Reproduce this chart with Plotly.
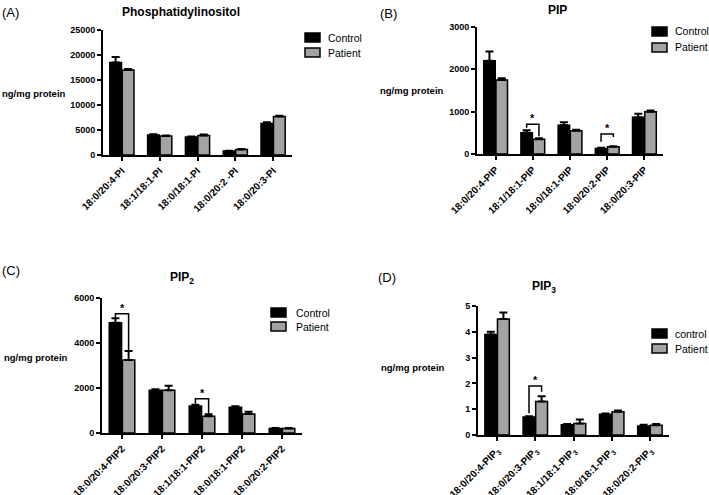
import plotly.graph_objects as go

W, H = 709, 495

# ---------------- data ----------------
cats_A = ["18:0/20:4-PI", "18:1/18:1-PI", "18:0/18:1-PI", "18:0/20:2 -PI", "18:0/20:3-PI"]
ctrl_A = [18500, 4000, 3600, 800, 6300]
ctrl_A_err = [1100, 150, 120, 60, 250]
pat_A = [17000, 3800, 3900, 1100, 7700]
pat_A_err = [200, 100, 200, 100, 150]

cats_B = ["18:0/20:4-PIP", "18:1/18:1-PIP", "18:0/18:1-PIP", "18:0/20:2-PIP", "18:0/20:3-PIP"]
ctrl_B = [2200, 500, 680, 130, 870]
ctrl_B_err = [220, 60, 70, 15, 80]
pat_B = [1750, 350, 550, 170, 1000]
pat_B_err = [40, 20, 20, 15, 30]

cats_C = ["18:0/20:4-PIP2", "18:0/20:3-PIP2", "18:1/18:1-PIP2", "18:0/18:1-PIP2", "18:0/20:2-PIP2"]
ctrl_C = [4900, 1900, 1200, 1150, 200]
ctrl_C_err = [200, 50, 60, 40, 20]
pat_C = [3250, 1900, 750, 850, 200]
pat_C_err = [400, 200, 80, 100, 20]

cats_D = ["18:0/20:4-PIP<sub>3</sub>", "18:0/20:3-PIP<sub>3</sub>", "18:1/18:1-PIP<sub>3</sub>",
          "18:0/18:1-PIP<sub>3</sub>", "18:0/20:2-PIP<sub>3</sub>"]
ctrl_D = [3.9, 0.7, 0.4, 0.8, 0.35]
ctrl_D_err = [0.1, 0.03, 0.03, 0.03, 0.05]
pat_D = [4.5, 1.3, 0.45, 0.9, 0.38]
pat_D_err = [0.25, 0.2, 0.15, 0.05, 0.05]

# significance brackets: (group index, top level, left drop end, right drop end)
sig_B = [(1, 700, 620, 420), (3, 470, 290, 400)]
sig_C = [(0, 5300, 5150, 3600), (2, 1520, 1300, 790)]
sig_D = [(1, 1.9, 0.84, 1.68)]

FONT = "Liberation Sans, Arial, sans-serif"
CTRL_COLOR = "black"
PAT_COLOR = "#a3a3a3"

panels = [
    dict(key="A", title="Phosphatidylinositol", cats=cats_A, c=ctrl_A, ce=ctrl_A_err, p=pat_A, pe=pat_A_err,
         yr=25000, dt=5000, names=["Control", "Patient"], sig=[],
         xpx=(103, 292), ypx=(30, 155), leg=(305, 33, 48, 326), tit=(181, 12), let=(0, 13), yl=(68, 93)),
    dict(key="B", title="PIP", cats=cats_B, c=ctrl_B, ce=ctrl_B_err, p=pat_B, pe=pat_B_err,
         yr=3000, dt=1000, names=["Control", "Patient"], sig=sig_B,
         xpx=(477, 663), ypx=(27, 154), leg=(652, 27, 43, 673), tit=(557, 10), let=(378, 14), yl=(446, 91)),
    dict(key="C", title="PIP<sub>2</sub>", cats=cats_C, c=ctrl_C, ce=ctrl_C_err, p=pat_C, pe=pat_C_err,
         yr=6000, dt=2000, names=["Control", "Patient"], sig=sig_C,
         xpx=(102, 302), ypx=(298, 433), leg=(271, 308, 322, 294), tit=(182, 278), let=(0, 270), yl=(70, 357)),
    dict(key="D", title="PIP<sub>3</sub>", cats=cats_D, c=ctrl_D, ce=ctrl_D_err, p=pat_D, pe=pat_D_err,
         yr=5, dt=1, names=["control", "Patient"], sig=sig_D,
         xpx=(478, 669), ypx=(306, 435), leg=(652, 329, 344, 673), tit=(544, 287), let=(376, 277), yl=(447, 367)),
]

fig = go.Figure()
layout = dict(width=W, height=H, margin=dict(l=0, r=0, t=0, b=0, autoexpand=False),
              paper_bgcolor="white", plot_bgcolor="white", barmode="overlay", showlegend=False,
              font=dict(family=FONT, color="black"))
annotations = []
shapes = []

BW = 0.31
for i, pn in enumerate(panels):
    n = "" if i == 0 else str(i + 1)
    xa, ya = "x" + n, "y" + n
    xs = list(range(len(pn["cats"])))
    fig.add_trace(go.Bar(x=xs, y=pn["c"], name=pn["names"][0], xaxis=xa, yaxis=ya,
                         width=BW, offset=-BW - 0.01,
                         marker=dict(color=CTRL_COLOR, line=dict(color="black", width=1.5)),
                         error_y=dict(type="data", array=pn["ce"], arrayminus=[0] * 5, symmetric=False,
                                      color="black", thickness=2, width=4)))
    fig.add_trace(go.Bar(x=xs, y=pn["p"], name=pn["names"][1], xaxis=xa, yaxis=ya,
                         width=BW, offset=0.01,
                         marker=dict(color=PAT_COLOR, line=dict(color="black", width=1.5)),
                         error_y=dict(type="data", array=pn["pe"], arrayminus=[0] * 5, symmetric=False,
                                      color="black", thickness=2, width=4)))
    cL, cR = -BW / 2 - 0.01, BW / 2 + 0.01
    for (g, top, lb, rb) in pn["sig"]:
        fig.add_trace(go.Scatter(x=[g + cL, g + cL, g + cR, g + cR], y=[lb, top, top, rb],
                                 mode="lines", line=dict(color="black", width=1.5),
                                 xaxis=xa, yaxis=ya, showlegend=False, hoverinfo="skip"))
        annotations.append(dict(x=g, y=top, xref=xa, yref=ya, text="<b>*</b>", showarrow=False,
                                yanchor="bottom", yshift=-2, font=dict(size=11, family=FONT)))
    x0, x1 = pn["xpx"]
    yt, yb = pn["ypx"]
    layout["xaxis" + n] = dict(domain=[x0 / W, x1 / W], anchor=ya, range=[-0.5, 4.5], automargin=False,
                               tickvals=xs, ticktext=pn["cats"], tickangle=-45,
                               showline=True, linecolor="black", linewidth=2,
                               ticks="outside", ticklen=4, tickwidth=2, tickcolor="black",
                               showgrid=False, zeroline=False,
                               tickfont=dict(size=10, family=FONT, weight="bold"))
    layout["yaxis" + n] = dict(domain=[1 - yb / H, 1 - yt / H], anchor=xa, range=[0, pn["yr"]],
                               dtick=pn["dt"], tick0=0, tickformat="d", automargin=False,
                               showline=True, linecolor="black", linewidth=2,
                               ticks="outside", ticklen=4, tickwidth=2, tickcolor="black",
                               showgrid=False, zeroline=False,
                               tickfont=dict(size=9, family=FONT, weight="bold"))
    # manual legend (Prism style boxes)
    lx, ly1, ly2, ltx = pn["leg"]
    for (yy, col, name) in [(ly1, CTRL_COLOR, pn["names"][0]), (ly2, PAT_COLOR, pn["names"][1])]:
        shapes.append(dict(type="rect", xref="paper", yref="paper",
                           x0=lx / W, x1=(lx + 15) / W, y0=1 - (yy + 9) / H, y1=1 - yy / H,
                           fillcolor=col, line=dict(color="black", width=1.5)))
        annotations.append(dict(x=ltx / W, y=1 - (yy + 4.5) / H, xref="paper", yref="paper", text=name,
                                showarrow=False, xanchor="left", yanchor="middle",
                                font=dict(size=10.5, family=FONT)))
    tx, ty = pn["tit"]
    annotations.append(dict(x=tx / W, y=1 - ty / H, xref="paper", yref="paper", text="<b>" + pn["title"] + "</b>",
                            showarrow=False, xanchor="center", yanchor="middle", font=dict(size=12, family=FONT)))
    lx2, ly2_ = pn["let"]
    annotations.append(dict(x=lx2 / W, y=1 - ly2_ / H, xref="paper", yref="paper", text="(" + pn["key"] + ")",
                            showarrow=False, xanchor="left", yanchor="middle", font=dict(size=13, family=FONT)))
    yx, yy = pn["yl"]
    annotations.append(dict(x=yx / W, y=1 - yy / H, xref="paper", yref="paper", text="<b>ng/mg protein</b>",
                            showarrow=False, xanchor="right", yanchor="middle", font=dict(size=9.5, family=FONT)))

layout["annotations"] = annotations
layout["shapes"] = shapes
fig.update_layout(**layout)
fig.write_html("out.html", config={"displayModeBar": False},
               post_script="document.body.style.margin='0';document.body.style.overflow='hidden';")
